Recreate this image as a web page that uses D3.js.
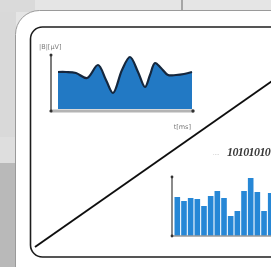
<!DOCTYPE html>
<html>
<head>
<meta charset="utf-8">
<script src="https://cdn.jsdelivr.net/npm/d3@7"></script>
<style>
  body { margin: 0; background: #e6e6e6; }
  svg { display: block; }
</style>
</head>
<body>
<script>
// Signal curve, |B| in µV over t in ms
var areaT = [7, 15, 25, 36, 47, 55, 62, 71, 79, 87, 94, 99, 104, 110, 117, 125, 133, 141];
var areaB = [39, 39, 38, 33, 46, 31, 18, 41, 54, 39, 24, 36, 48, 43, 36, 36, 37, 39];

// Digitised bars
var barIndex = d3.range(15);
var barValues = [39, 35, 38, 37, 30, 40, 45, 38, 20, 25, 45, 58, 44, 25, 43];

var yLabel = "|B|[µV]",
    xLabel = "t[ms]",
    digits = "10101010";

var width = 271, height = 267;

var svg = d3.select("body").append("svg")
    .attr("width", width)
    .attr("height", height);

var defs = svg.append("defs");
defs.append("filter").attr("id", "soft")
  .append("feGaussianBlur").attr("stdDeviation", 0.45);

// Background around the card
svg.append("rect").attr("width", width).attr("height", height).attr("fill", "#e5e5e5");
svg.append("rect").attr("width", 35).attr("height", 12).attr("fill", "#dadada");
svg.append("rect").attr("y", 12).attr("width", 16).attr("height", 125).attr("fill", "#d9d9d9");
svg.append("rect").attr("y", 137).attr("width", 16).attr("height", 26).attr("fill", "#dedede");
svg.append("rect").attr("y", 163).attr("width", 16).attr("height", 104).attr("fill", "#b9b9b9");
svg.append("line").attr("x1", 182).attr("x2", 182).attr("y1", 0).attr("y2", 11)
    .attr("stroke", "#7a7a7a").attr("stroke-width", 1.2);

var g = svg.append("g").attr("filter", "url(#soft)");

// Outer card and inner frame
g.append("rect")
    .attr("x", 15.5).attr("y", 10.5).attr("width", 300).attr("height", 300)
    .attr("rx", 24).attr("fill", "#fff").attr("stroke", "#9a9a9a");
g.append("rect")
    .attr("x", 30.5).attr("y", 27).attr("width", 280).attr("height", 230)
    .attr("rx", 12).attr("fill", "#fff").attr("stroke", "#1e1e1e").attr("stroke-width", 1.6);

// Diagonal
g.append("line")
    .attr("x1", 35).attr("y1", 247).attr("x2", 275).attr("y2", 79)
    .attr("stroke", "#111").attr("stroke-width", 2);

// ---------- area chart ----------
var x = d3.scaleLinear().domain([0, 142]).range([51, 193]);
var y = d3.scaleLinear().domain([0, 60]).range([111, 51]);

var pts = areaT.map(function(t, i) { return [t, areaB[i]]; });

var area = d3.area()
    .x(function(d) { return x(d[0]); })
    .y0(y(2))
    .y1(function(d) { return y(d[1]); })
    .curve(d3.curveCatmullRom.alpha(0.5));

var line = d3.line()
    .x(function(d) { return x(d[0]); })
    .y(function(d) { return y(d[1]); })
    .curve(d3.curveCatmullRom.alpha(0.5));

g.append("path").datum(pts).attr("d", area).attr("fill", "#2479c4");
g.append("path").datum(pts).attr("d", line)
    .attr("fill", "none").attr("stroke", "#13283d").attr("stroke-width", 2.2);

// axes
g.append("line").attr("x1", x(0)).attr("x2", x(142)).attr("y1", y(0)).attr("y2", y(0))
    .attr("stroke", "#b4b4b4").attr("stroke-width", 3);
g.append("line").attr("x1", x(0)).attr("x2", x(0)).attr("y1", y(56)).attr("y2", y(0))
    .attr("stroke", "#5a5a5a").attr("stroke-width", 1.6);
g.append("circle").attr("cx", x(0)).attr("cy", y(56)).attr("r", 1.5).attr("fill", "#333");
g.append("circle").attr("cx", x(0)).attr("cy", y(0)).attr("r", 1.6).attr("fill", "#333");
g.append("circle").attr("cx", x(142)).attr("cy", y(0)).attr("r", 1.7).attr("fill", "#333");

g.append("text").attr("x", 39).attr("y", 49).text(yLabel)
    .attr("font-family", "DejaVu Sans").attr("font-size", 6.5).attr("fill", "#7a7a7a");
g.append("text").attr("x", 191).attr("y", 129).attr("text-anchor", "end").text(xLabel)
    .attr("font-family", "DejaVu Sans").attr("font-size", 6.5).attr("fill", "#7a7a7a");

// ---------- bar chart ----------
var bx = d3.scaleBand().domain(barIndex).range([174.5, 273.5]).paddingInner(0.16);
var by = d3.scaleLinear().domain([0, 60]).range([236, 176]);

g.selectAll("rect.bar")
    .data(barValues)
  .enter().append("rect")
    .attr("class", "bar")
    .attr("x", function(d, i) { return bx(i); })
    .attr("y", function(d) { return by(d); })
    .attr("width", bx.bandwidth())
    .attr("height", function(d) { return by(0) - by(d); })
    .attr("fill", "#2787d6");

g.append("line").attr("x1", 172).attr("x2", 275).attr("y1", by(0)).attr("y2", by(0))
    .attr("stroke", "#9a9a9a").attr("stroke-width", 1.6);
g.append("line").attr("x1", 172).attr("x2", 172).attr("y1", by(59)).attr("y2", by(0))
    .attr("stroke", "#5a5a5a").attr("stroke-width", 1.4);
g.append("circle").attr("cx", 172).attr("cy", by(59)).attr("r", 1.4).attr("fill", "#333");
g.append("circle").attr("cx", 172).attr("cy", by(0)).attr("r", 1.4).attr("fill", "#333");

g.append("text").attr("x", 213).attr("y", 155).text("....")
    .attr("font-family", "DejaVu Sans").attr("font-size", 5).attr("fill", "#888");
var dt = g.append("text").attr("x", 227).attr("y", 155.5).text(digits)
    .attr("font-family", "Liberation Serif").attr("font-style", "italic")
    .attr("font-weight", "bold").attr("font-size", 12).attr("fill", "#3a3a3a")
    .attr("letter-spacing", -0.6);
</script>
</body>
</html>
